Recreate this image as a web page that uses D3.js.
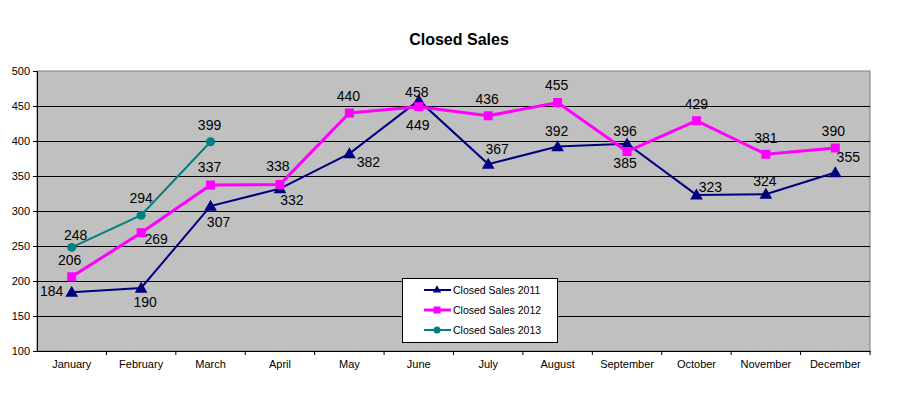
<!DOCTYPE html>
<html>
<head>
<meta charset="utf-8">
<script src="https://cdn.jsdelivr.net/npm/d3@7"></script>
<style>
  body { margin: 0; background: #fff; }
  svg { display: block; font-family: Arial, "Liberation Sans", sans-serif; }
</style>
</head>
<body>
<svg id="chart" width="900" height="397"></svg>
<script>
// data
const months = ["January","February","March","April","May","June","July","August","September","October","November","December"];
const sales2011 = [184,190,307,332,382,458,367,392,396,323,324,355];
const sales2012 = [206,269,337,338,440,449,436,455,385,429,381,390];
const sales2013 = [248,294,399];
const yTicks = [100,150,200,250,300,350,400,450,500];

// where each value label sits relative to its point
const lab2011 = [[-20,-1],[4,14],[8,16],[12,11],[19,8],[-2,-8],[9,-15],[-1,-16],[-2,-13],[14,-8],[-1,-13],[13,-16]];
const lab2012 = [[-2,-17],[15,6],[-1,-18],[-2,-18],[-1,-17],[-1,18],[-1,-17],[-1,-18],[-2,11],[0,-17],[0,-16],[-2,-17]];
const lab2013 = [[4,-12],[0,-17],[-1,-17]];

const series = [
  {name:"Closed Sales 2011", values:sales2011, color:"#000080", width:2, marker:"triangle", labels:lab2011},
  {name:"Closed Sales 2012", values:sales2012, color:"#FF00FF", width:3, marker:"square", labels:lab2012},
  {name:"Closed Sales 2013", values:sales2013, color:"#008080", width:2, marker:"circle", labels:lab2013}
];

const svg = d3.select("#chart");
const pLeft = 37, pRight = 870, pTop = 71, pBottom = 351;

const x = d3.scaleBand().domain(months).range([pLeft, pRight]);
const y = d3.scaleLinear().domain([100, 500]).range([pBottom, pTop]);

// title
svg.append("text")
  .attr("x", 459).attr("y", 45)
  .attr("text-anchor", "middle")
  .attr("font-size", 16).attr("font-weight", "bold")
  .text("Closed Sales");

// plot background
svg.append("rect")
  .attr("x", pLeft).attr("y", pTop)
  .attr("width", pRight - pLeft).attr("height", pBottom - pTop)
  .attr("fill", "#C0C0C0").attr("stroke", "#808080");

// grid
svg.append("g").selectAll("line")
  .data(yTicks.filter(d => d > 100 && d < 500))
  .join("line")
  .attr("x1", pLeft).attr("x2", pRight)
  .attr("y1", d => y(d)).attr("y2", d => y(d))
  .attr("stroke", "#000").attr("stroke-width", 1)
  .attr("shape-rendering", "crispEdges");

// axes
const yAxis = svg.append("g")
  .attr("transform", `translate(${pLeft},0)`)
  .call(d3.axisLeft(y).tickValues(yTicks).tickSize(4).tickPadding(3));
const xAxis = svg.append("g")
  .attr("transform", `translate(0,${pBottom})`)
  .call(d3.axisBottom(x).tickSize(0).tickPadding(9));
[yAxis, xAxis].forEach(a => {
  a.select(".domain").attr("stroke", "#000");
  a.selectAll("line").attr("stroke", "#000");
  a.selectAll("text").attr("font-size", 11).attr("fill", "#000")
    .attr("font-family", "Arial, 'Liberation Sans', sans-serif");
});
// category separators on x axis
svg.append("g").selectAll("line")
  .data(months)
  .join("line")
  .attr("x1", d => x(d) + x.step())
  .attr("x2", d => x(d) + x.step())
  .attr("y1", pBottom).attr("y2", pBottom + 4)
  .attr("stroke", "#000");

const cx = i => x(months[i]) + x.bandwidth() / 2;

function marker(g, type, color) {
  if (type === "triangle") {
    g.append("path").attr("d", d3.symbol(d3.symbolTriangle, 70)())
      .attr("transform", "translate(0,1)").attr("fill", color);
  } else if (type === "square") {
    g.append("rect").attr("x", -4.5).attr("y", -4.5).attr("width", 9).attr("height", 9).attr("fill", color);
  } else {
    g.append("circle").attr("r", 4.5).attr("fill", color);
  }
}

const line = d3.line().x((d, i) => cx(i)).y(d => y(d));

series.forEach(s => {
  const g = svg.append("g");
  g.append("path")
    .datum(s.values)
    .attr("d", line)
    .attr("fill", "none")
    .attr("stroke", s.color)
    .attr("stroke-width", s.width);
  g.selectAll("g.pt")
    .data(s.values)
    .join("g")
    .attr("class", "pt")
    .attr("transform", (d, i) => `translate(${cx(i)},${y(d)})`)
    .each(function () { marker(d3.select(this), s.marker, s.color); });
});

// value labels on top
series.forEach(s => {
  svg.append("g").selectAll("text")
    .data(s.values)
    .join("text")
    .attr("x", (d, i) => cx(i) + s.labels[i][0])
    .attr("y", (d, i) => y(d) + s.labels[i][1])
    .attr("text-anchor", "middle")
    .attr("dominant-baseline", "central")
    .attr("font-size", 14)
    .attr("fill", "#000")
    .text(d => d);
});

// legend
const lg = svg.append("g");
lg.append("rect")
  .attr("x", 402.5).attr("y", 278.5).attr("width", 155).attr("height", 64)
  .attr("fill", "#fff").attr("stroke", "#000");
series.forEach((s, i) => {
  const ly = 290 + i * 20;
  lg.append("line")
    .attr("x1", 424).attr("x2", 451).attr("y1", ly).attr("y2", ly)
    .attr("stroke", s.color).attr("stroke-width", s.width);
  const m = lg.append("g").attr("transform", `translate(437,${ly})`);
  if (s.marker === "triangle") {
    m.append("path").attr("d", d3.symbol(d3.symbolTriangle, 30)()).attr("fill", s.color);
  } else if (s.marker === "square") {
    m.append("rect").attr("x", -3.5).attr("y", -3.5).attr("width", 7).attr("height", 7).attr("fill", s.color);
  } else {
    m.append("circle").attr("r", 3.5).attr("fill", s.color);
  }
  lg.append("text")
    .attr("x", 453).attr("y", ly)
    .attr("dominant-baseline", "central")
    .attr("font-size", 10.5)
    .text(s.name);
});
</script>
</body>
</html>
